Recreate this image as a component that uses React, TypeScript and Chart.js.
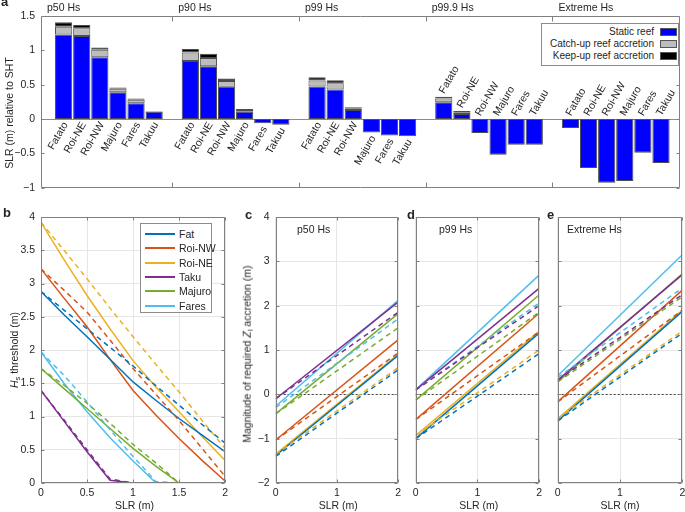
import React, { useEffect, useRef } from "react";
import { Chart, registerables } from "chart.js";
Chart.register(...registerables);

const FONT = "'Liberation Sans', Arial, Helvetica, sans-serif";
const TEXT = "#262626";
const AXIS = "#808080";
const GRID = "#e6e6e6";
const FS = 10.5;

// ---------- Panel a data ----------
const SCENARIOS = ["p50 Hs", "p90 Hs", "p99 Hs", "p99.9 Hs", "Extreme Hs"];
const SITES = ["Fatato", "Roi-NE", "Roi-NW", "Majuro", "Fares", "Takuu"];
const STATIC_REEF = [
  [1.23, 1.21, 0.9, 0.39, 0.23, 0.107],
  [0.845, 0.77, 0.47, 0.107, -0.063, -0.083],
  [0.475, 0.43, 0.13, -0.195, -0.24, -0.25],
  [0.243, 0.073, -0.204, -0.52, -0.374, -0.374],
  [-0.13, -0.714, -0.927, -0.903, -0.49, -0.64],
];
const CATCH_UP = [
  [1.345, 1.32, 1.01, 0.44, 0.28, 0.112],
  [0.97, 0.89, 0.555, 0.13, null, null],
  [0.56, 0.52, 0.155, null, null, null],
  [0.3, 0.097, null, null, null, null],
  [null, null, null, null, null, null],
];
const KEEP_UP = [
  [1.41, 1.37, 1.04, 0.46, 0.3, 0.118],
  [1.02, 0.95, 0.59, 0.145, null, null],
  [0.607, 0.565, 0.17, null, null, null],
  [0.325, 0.117, null, null, null, null],
  [null, null, null, null, null, null],
];
const LABELS_ABOVE = [false, false, false, true, true];
const LEGEND_A = ["Static reef", "Catch-up reef accretion", "Keep-up reef accretion"];
const COLORS_A = ["#0000ff", "#bdbdbd", "#000000"];
const A_TICKS = [-1, -0.5, 0, 0.5, 1, 1.5];

// ---------- Panel b data ----------
const SLR = [0, 0.25, 0.5, 0.75, 1, 1.25, 1.5, 1.75, 2];
const SITE_NAMES = ["Fat", "Roi-NW", "Roi-NE", "Taku", "Majuro", "Fares"];
const SITE_COLORS = ["#0072BD", "#D95319", "#EDB120", "#7E2F8E", "#77AC30", "#4DBEEE"];
const HS_SOLID = [
  [2.88, 2.53, 2.2, 1.86, 1.52, 1.24, 0.97, 0.72, 0.47],
  [3.22, 2.78, 2.35, 1.86, 1.39, 1.02, 0.67, 0.34, 0.03],
  [3.92, 3.36, 2.82, 2.32, 1.84, 1.44, 1.07, 0.7, 0.34],
  [1.39, 0.93, 0.47, 0.04, 0, 0, 0, 0, 0],
  [1.72, 1.42, 1.12, 0.82, 0.52, 0.25, 0, 0, 0],
  [1.97, 1.5, 1.07, 0.68, 0.33, 0, 0, 0, 0],
];
const HS_DASHED = [
  [2.88, 2.6, 2.32, 2.04, 1.76, 1.46, 1.17, 0.88, 0.6],
  [3.22, 2.9, 2.57, 2.15, 1.72, 1.33, 0.94, 0.52, 0.1],
  [3.92, 3.5, 3.07, 2.63, 2.2, 1.78, 1.37, 0.94, 0.52],
  [1.39, 0.95, 0.5, 0.06, 0, 0, 0, 0, 0],
  [1.72, 1.47, 1.2, 0.9, 0.58, 0.3, 0, 0, 0],
  [1.97, 1.62, 1.22, 0.8, 0.4, 0.02, 0, 0, 0],
];

// ---------- Panels c-e data (value at SLR 0 and SLR 2) ----------
const SLR_ENDS = [0, 2];
const P50_SOLID = [[-1.38, 0.88], [-1.03, 1.23], [-1.35, 0.9], [-0.1, 2.08], [-0.44, 1.82], [-0.27, 2.12]];
const P50_DASHED = [[-1.4, 0.55], [-1.03, 0.93], [-1.35, 0.6], [-0.1, 1.85], [-0.44, 1.5], [-0.3, 1.7]];
const P99_SOLID = [[-1.0, 1.38], [-0.57, 1.83], [-0.93, 1.42], [0.1, 2.39], [-0.13, 2.24], [0.1, 2.69]];
const P99_DASHED = [[-1.0, 0.92], [-0.57, 1.41], [-0.93, 1.0], [0.1, 2.0], [-0.13, 1.85], [0.1, 2.06]];
const EXT_SOLID = [[-0.6, 1.87], [-0.17, 2.35], [-0.55, 1.9], [0.32, 2.7], [0.28, 2.72], [0.42, 3.15]];
const EXT_DASHED = [[-0.6, 1.38], [-0.17, 1.9], [-0.55, 1.43], [0.32, 2.25], [0.28, 2.2], [0.38, 2.4]];

const fmt = (v: number) => {
  const r = Math.round(v * 100) / 100;
  return (r < 0 ? "\u2212" : "") + String(Math.abs(r));
};

function framePlugin(opts: { xTicks?: number[]; xTickLen?: number; zero?: "dash" | "solid" }) {
  return {
    id: "frame",
    beforeDatasetsDraw(chart: any) {
      if (!opts.zero) return;
      const { ctx, chartArea: ca } = chart;
      const y0 = Math.round(chart.scales.y.getPixelForValue(0)) + 0.5;
      ctx.save();
      ctx.lineWidth = 1;
      if (opts.zero === "dash") {
        ctx.strokeStyle = "#444";
        ctx.setLineDash([2, 2]);
      } else {
        ctx.strokeStyle = "#8c8c8c";
      }
      ctx.beginPath();
      ctx.moveTo(ca.left, y0);
      ctx.lineTo(ca.right, y0);
      ctx.stroke();
      ctx.restore();
    },
    afterDatasetsDraw(chart: any) {
      const { ctx, chartArea: ca } = chart;
      const xs = chart.scales.x, ys = chart.scales.y;
      const L = Math.round(ca.left) + 0.5, R = Math.round(ca.right) - 0.5;
      const T = Math.round(ca.top) + 0.5, B = Math.round(ca.bottom) - 0.5;
      ctx.save();
      ctx.strokeStyle = AXIS;
      ctx.lineWidth = 1;
      ctx.beginPath();
      ctx.rect(L, T, R - L, B - T);
      const xl = opts.xTickLen ?? 3;
      const xt = opts.xTicks ?? xs.ticks.map((t: any) => t.value);
      xt.forEach((v: number) => {
        const p = Math.round(xs.getPixelForValue(v)) + 0.5;
        ctx.moveTo(p, B); ctx.lineTo(p, B - xl);
        ctx.moveTo(p, T); ctx.lineTo(p, T + xl);
      });
      ys.ticks.forEach((t: any) => {
        const p = Math.round(ys.getPixelForValue(t.value)) + 0.5;
        ctx.moveTo(L, p); ctx.lineTo(L + 3, p);
        ctx.moveTo(R, p); ctx.lineTo(R - 3, p);
      });
      ctx.stroke();
      ctx.restore();
    },
  };
}

const barLabelPlugin = {
  id: "barLabels",
  afterDatasetsDraw(chart: any) {
    const { ctx } = chart;
    const xs = chart.scales.x, ys = chart.scales.y;
    ctx.save();
    ctx.fillStyle = TEXT;
    ctx.font = `${FS}px ${FONT}`;
    SCENARIOS.forEach((name, g) => {
      const bx = g === 0 ? xs.min : g * 7;
      ctx.textAlign = "left";
      ctx.textBaseline = "middle";
      ctx.fillText(name, xs.getPixelForValue(bx) + 6, 8);
      SITES.forEach((site, s) => {
        const x = xs.getPixelForValue(g * 7 + s + 1);
        const st = STATIC_REEF[g][s];
        const top = KEEP_UP[g][s] ?? CATCH_UP[g][s] ?? st;
        ctx.save();
        if (LABELS_ABOVE[g]) {
          ctx.translate(x - 2, ys.getPixelForValue(Math.max(0, top)) - 4);
          ctx.rotate(-Math.PI / 3);
          ctx.textAlign = "left";
        } else {
          ctx.translate(x + 2, ys.getPixelForValue(Math.min(0, st)) + 4);
          ctx.rotate(-Math.PI / 3);
          ctx.textAlign = "right";
        }
        ctx.textBaseline = "middle";
        ctx.fillText(site, 0, 0);
        ctx.restore();
      });
    });
    ctx.restore();
  },
};

function useChart(ref: React.RefObject<HTMLCanvasElement>, make: () => any) {
  useEffect(() => {
    const c = new Chart(ref.current as HTMLCanvasElement, make());
    return () => c.destroy();
  }, []);
}

function BarPanel() {
  const ref = useRef<HTMLCanvasElement>(null);
  useChart(ref, () => {
    const pts: { x: number; g: number; s: number }[] = [];
    SCENARIOS.forEach((_, g) => SITES.forEach((_, s) => pts.push({ x: g * 7 + s + 1, g, s })));
    const common = {
      borderColor: "#4d4d4d",
      borderWidth: 1,
      borderSkipped: false,
      barPercentage: 0.95,
      categoryPercentage: 1,
    };
    return {
      type: "bar",
      data: {
        datasets: [
          { ...common, label: LEGEND_A[0], backgroundColor: COLORS_A[0], data: pts.map((p) => ({ x: p.x, y: STATIC_REEF[p.g][p.s] })) },
          {
            ...common, label: LEGEND_A[1], backgroundColor: COLORS_A[1],
            data: pts.map((p) => {
              const c = CATCH_UP[p.g][p.s];
              return { x: p.x, y: c == null ? null : c - STATIC_REEF[p.g][p.s] };
            }),
          },
          {
            ...common, label: LEGEND_A[2], backgroundColor: COLORS_A[2],
            data: pts.map((p) => {
              const k = KEEP_UP[p.g][p.s];
              const c = CATCH_UP[p.g][p.s];
              return { x: p.x, y: k == null || c == null ? null : k - c };
            }),
          },
        ],
      },
      options: {
        animation: false,
        responsive: false,
        events: [],
        layout: { padding: { left: 0, top: 16, right: 5, bottom: 11 } },
        plugins: { legend: { display: false }, tooltip: { enabled: false } },
        scales: {
          x: { type: "linear", min: -0.25, max: 35.05, stacked: true, offset: false, display: false, grid: { offset: false } },
          y: {
            type: "linear", min: -1, max: 1.5, stacked: true,
            afterBuildTicks: (s: any) => { s.ticks = A_TICKS.map((v) => ({ value: v })); },
            ticks: { padding: 6, callback: (v: any) => fmt(Number(v)), color: TEXT, font: { family: FONT, size: FS } },
            grid: { display: false, drawTicks: false },
            border: { display: false },
            afterFit: (s: any) => { s.width = 41; },
          },
        },
      },
      plugins: [framePlugin({ xTicks: [7, 14, 21, 28], xTickLen: 5, zero: "solid" }), barLabelPlugin],
    };
  });
  return <canvas ref={ref} width={685} height={200} style={{ position: "absolute", left: 0, top: 0 }} />;
}

function lineDatasets(xs: number[], solid: number[][], dashed: number[][]) {
  const out: any[] = [];
  dashed.forEach((vals, i) =>
    out.push({
      label: SITE_NAMES[i] + " dashed",
      data: xs.map((x, j) => ({ x, y: vals[j] })),
      borderColor: SITE_COLORS[i], borderWidth: 1.5, borderDash: [5, 4], pointRadius: 0, fill: false, tension: 0,
    })
  );
  solid.forEach((vals, i) =>
    out.push({
      label: SITE_NAMES[i],
      data: xs.map((x, j) => ({ x, y: vals[j] })),
      borderColor: SITE_COLORS[i], borderWidth: 1.5, pointRadius: 0, fill: false, tension: 0,
    })
  );
  return out;
}

function LinePanel(props: {
  left: number; width: number; areaLeft: number; areaRight: number;
  xs: number[]; solid: number[][]; dashed: number[][];
  yMin: number; yMax: number; yStep: number; xStep: number; yLabels: boolean; zero?: "dash";
}) {
  const ref = useRef<HTMLCanvasElement>(null);
  const p = props;
  useChart(ref, () => ({
    type: "line",
    data: { datasets: lineDatasets(p.xs, p.solid, p.dashed) },
    options: {
      animation: false,
      responsive: false,
      events: [],
      layout: { padding: { left: 0, top: 17, right: p.left + p.width - p.areaRight, bottom: 9 } },
      plugins: { legend: { display: false }, tooltip: { enabled: false } },
      scales: {
        x: {
          type: "linear", min: 0, max: 2,
          ticks: { stepSize: p.xStep, padding: 4, maxRotation: 0, autoSkip: false, callback: (v: any) => fmt(Number(v)), color: TEXT, font: { family: FONT, size: FS } },
          grid: { color: GRID, drawTicks: false },
          border: { display: false },
          afterFit: (s: any) => { s.height = 20; },
        },
        y: {
          type: "linear", min: p.yMin, max: p.yMax,
          ticks: { display: p.yLabels, stepSize: p.yStep, padding: 6, callback: (v: any) => fmt(Number(v)), color: TEXT, font: { family: FONT, size: FS } },
          grid: { color: GRID, drawTicks: false },
          border: { display: false },
          afterFit: (s: any) => { s.width = p.areaLeft - p.left; },
        },
      },
    },
    plugins: [framePlugin({ zero: p.zero })],
  }));
  return <canvas ref={ref} width={p.width} height={312} style={{ position: "absolute", left: p.left, top: 200 }} />;
}

const Txt = (props: { x: number; y: number; children: any; size?: number; bold?: boolean; center?: boolean; rotate?: boolean; right?: boolean }) => {
  const size = props.size ?? FS;
  let transform = "translateY(-50%)";
  if (props.center) transform = "translate(-50%,-50%)";
  if (props.right) transform = "translate(-100%,-50%)";
  if (props.rotate) transform = "translate(-50%,-50%) rotate(-90deg)";
  return (
    <div
      style={{
        position: "absolute", left: props.x, top: props.y, transform, fontSize: size,
        lineHeight: `${size + 2}px`, whiteSpace: "nowrap", fontWeight: props.bold ? "bold" : "normal",
      }}
    >
      {props.children}
    </div>
  );
};

const subStyle: React.CSSProperties = { fontSize: 7.5, verticalAlign: "-2px", lineHeight: 0 };

export default function App() {
  const legendRowsB = SITE_NAMES.map((n, i) => (
    <div key={n} style={{ position: "absolute", left: 0, top: 3 + i * 14.3, height: 14, width: 72 }}>
      <div style={{ position: "absolute", left: 4, top: 6, width: 30, height: 2, background: SITE_COLORS[i] }} />
      <div style={{ position: "absolute", left: 38, top: 0, fontSize: FS, lineHeight: "14px", whiteSpace: "nowrap" }}>{n}</div>
    </div>
  ));
  return (
    <div
      style={{
        position: "absolute", left: 0, top: 0, width: 685, height: 512, overflow: "hidden",
        background: "#fff", fontFamily: FONT, color: TEXT,
      }}
    >
      <BarPanel />
      <LinePanel left={0} width={232} areaLeft={41} areaRight={228} xs={SLR} solid={HS_SOLID} dashed={HS_DASHED}
        yMin={0} yMax={4} yStep={0.5} xStep={0.5} yLabels={true} />
      <LinePanel left={232} width={173} areaLeft={275.7} areaRight={401} xs={SLR_ENDS} solid={P50_SOLID} dashed={P50_DASHED}
        yMin={-2} yMax={4} yStep={1} xStep={1} yLabels={true} zero="dash" />
      <LinePanel left={405} width={141} areaLeft={415.7} areaRight={541.7} xs={SLR_ENDS} solid={P99_SOLID} dashed={P99_DASHED}
        yMin={-2} yMax={4} yStep={1} xStep={1} yLabels={false} zero="dash" />
      <LinePanel left={546} width={144} areaLeft={557.7} areaRight={682.3} xs={SLR_ENDS} solid={EXT_SOLID} dashed={EXT_DASHED}
        yMin={-2} yMax={4} yStep={1} xStep={1} yLabels={false} zero="dash" />

      {/* legend a */}
      <div style={{ position: "absolute", left: 541, top: 23, width: 136, height: 41, border: "1px solid #8c8c8c", background: "#fff" }}>
        {LEGEND_A.map((n, i) => (
          <div key={n}>
            <div style={{ position: "absolute", right: 24, top: 2 + i * 12, fontSize: 10, lineHeight: "12px", whiteSpace: "nowrap" }}>{n}</div>
            <div style={{ position: "absolute", left: 118, top: 4 + i * 12, width: 17, height: 8, background: COLORS_A[i], border: "1px solid #555", boxSizing: "border-box" }} />
          </div>
        ))}
      </div>

      {/* legend b */}
      <div style={{ position: "absolute", left: 140, top: 223, width: 72, height: 90, border: "1px solid #8c8c8c", background: "#fff", boxSizing: "border-box" }}>
        {legendRowsB}
      </div>

      {/* axis titles */}
      <Txt x={9} y={113} rotate>SLR (m) relative to SHT</Txt>
      <Txt x={14} y={350} rotate><i>H</i><sub style={subStyle}>s</sub> threshold (m)</Txt>
      <Txt x={247} y={354} rotate>Magnitude of required <i>Z</i><sub style={subStyle}>l</sub> accretion (m)</Txt>
      <Txt x={134.5} y={505} center>SLR (m)</Txt>
      <Txt x={338.3} y={505} center>SLR (m)</Txt>
      <Txt x={478.7} y={505} center>SLR (m)</Txt>
      <Txt x={620} y={505} center>SLR (m)</Txt>

      {/* in-panel titles */}
      <Txt x={297} y={229}>p50 Hs</Txt>
      <Txt x={439} y={229}>p99 Hs</Txt>
      <Txt x={567} y={229}>Extreme Hs</Txt>

      {/* panel letters */}
      <Txt x={1} y={1} size={13} bold>a</Txt>
      <Txt x={3} y={212} size={13} bold>b</Txt>
      <Txt x={245} y={214} size={13} bold>c</Txt>
      <Txt x={407} y={214} size={13} bold>d</Txt>
      <Txt x={547} y={214} size={13} bold>e</Txt>
    </div>
  );
}
